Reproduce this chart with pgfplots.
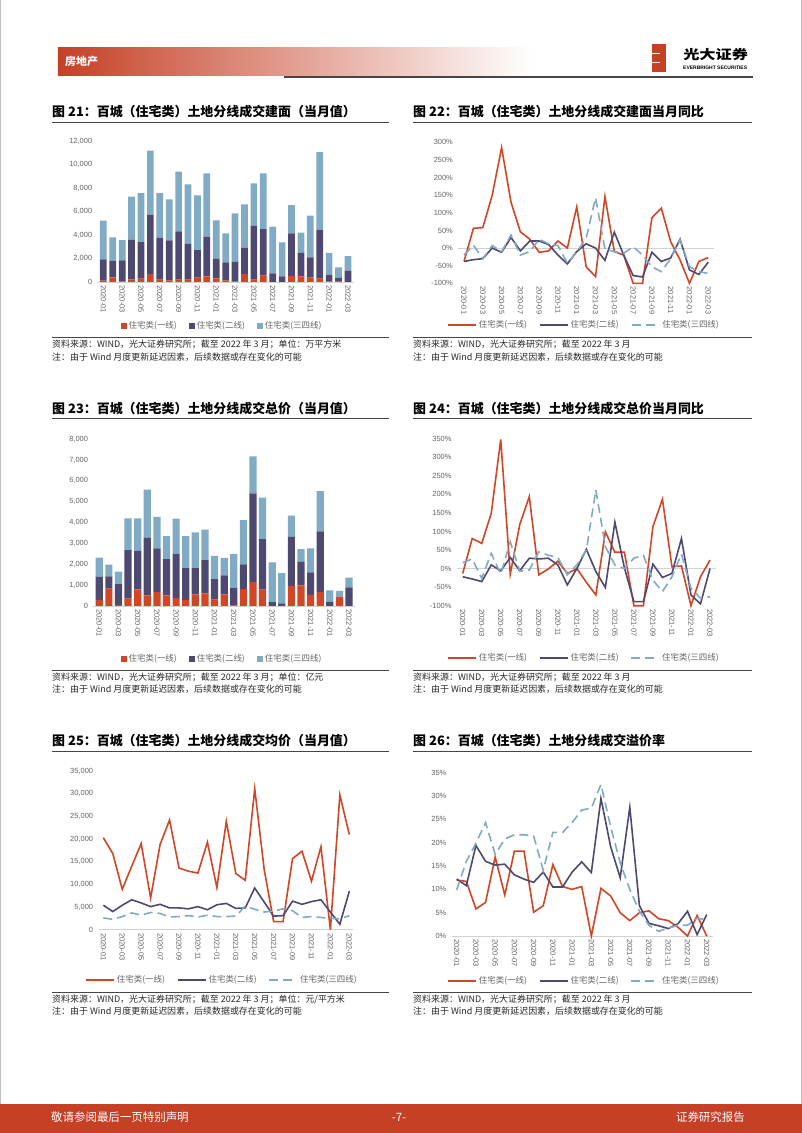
\documentclass[border=0pt]{standalone}
\usepackage{pgfplots}
\pgfplotsset{compat=1.18}
\usepackage{pgfplotstable}
\usepackage{fontspec}
\setmainfont{Noto Sans CJK SC}
\newfontfamily\lib{Liberation Sans}
\definecolor{cRed}{RGB}{209,70,38}
\definecolor{cDark}{RGB}{78,73,112}
\definecolor{cLight}{RGB}{129,170,197}
\definecolor{cText}{RGB}{100,100,100}
\definecolor{cAxis}{RGB}{210,210,210}
\definecolor{hdrRed}{RGB}{198,64,38}
\definecolor{ruleC}{RGB}{70,70,70}
\definecolor{srcC}{RGB}{40,40,40}

\newcommand\tickfont{\lib\fontsize{7.5}{9}\selectfont}
\newcommand\legfont{\fontsize{8.5}{10}\selectfont}

\pgfplotsset{
  pagebase/.style={
    scale only axis, clip=false,
    axis line style={draw=none}, tick style={draw=none},
    xtick={0,2,...,26},
    xticklabels={2020-01,2020-03,2020-05,2020-07,2020-09,2020-11,2021-01,2021-03,2021-05,2021-07,2021-09,2021-11,2022-01,2022-03},
    x tick label style={rotate=-90, anchor=west, font=\tickfont, text=cText},
    y tick label style={font=\tickfont, text=cText, xshift=-2bp},
    /pgf/number format/assume math mode=true,
    /pgf/number format/1000 sep={,},
    scaled y ticks=false,
    legend columns=3,
    legend cell align=left,
    legend style={draw=none, fill=none, font=\legfont, text=cText, anchor=center,
      /tikz/every even column/.append style={column sep=10bp}},
  },
  linechart/.style={pagebase,
    legend image code/.code={\draw[##1] (0bp,0bp) -- (28bp,0bp);}},
  barchart/.style={pagebase, ybar stacked,
    legend image code/.code={\fill[##1] (0bp,-3bp) rectangle (6bp,3bp);}},
  sR/.style={cRed, line width=1.6bp},
  sD/.style={cDark, line width=1.6bp},
  sL/.style={cLight, line width=1.6bp, dash pattern=on 9bp off 5bp},
}

% chart 21: building area (10k m2): tier1, tier2, tier3-4
\pgfplotstableread{
x a b c
0 110 1820 3290
1 400 1390 2010
2 30 1810 1730
3 230 3370 3660
4 280 3120 4170
5 680 5050 5450
6 200 3570 3800
7 140 3410 3490
8 200 4110 5080
9 200 3060 5050
10 370 2350 4660
11 480 3380 5390
12 310 1680 3260
13 140 1530 2470
14 30 1700 4110
15 680 2240 3690
16 200 4570 3630
17 540 3970 4740
18 0 740 3970
19 0 480 2900
20 510 3630 2410
21 480 1990 1730
22 370 1730 3550
23 280 4170 6610
24 30 590 1850
25 30 340 880
26 0 960 1250
}\tblA

\pgfplotstableread{
x a b c
0 -38 -38 -20
1 56 -33 8
2 58 -30 -30
3 150 0 7
4 285 -12 -10
5 130 30 37
6 46 -8 -20
7 25 20 -10
8 -12 20 25
9 -8 10 12
10 20 -20 7
11 0 -45 -43
12 117 -10 -10
13 -53 12 27
14 -81 0 143
15 146 -35 -3
16 -10 45 -10
17 -20 -20 -15
18 -100 -78 4
19 -100 -82 -20
20 86 -12 -53
21 113 -38 -67
22 18 -28 -30
23 -34 25 23
24 -100 -62 -53
25 -38 -75 -67
26 -27 -40 -72
}\tblB

\pgfplotstableread{
x a b c
0 290 1100 930
1 830 590 560
2 60 990 600
3 350 2330 1520
4 800 1850 1550
5 510 2760 2300
6 670 2090 1510
7 510 1740 1100
8 380 2130 1680
9 290 1530 1530
10 560 1260 1710
11 610 1590 1460
12 300 990 1110
13 560 910 830
14 20 860 1610
15 810 1190 2120
16 1150 4250 1770
17 780 2430 1980
18 0 190 1900
19 0 130 1440
20 960 2350 1020
21 990 1130 600
22 530 1080 1150
23 670 2910 1920
24 0 210 540
25 450 0 270
26 0 890 470
}\tblC

\pgfplotstableread{
x a b c
0 -13 -22 16
1 81 -28 26
2 68 -35 -26
3 149 10 41
4 348 -6 -15
5 -15 30 72
6 119 -6 -7
7 194 28 -4
8 -17 26 45
9 -1 28 36
10 20 10 30
11 -13 -44 -17
12 0 0 10
13 -37 52 50
14 -71 -8 212
15 99 -51 59
16 44 125 10
17 44 2 0
18 -100 -89 28
19 -100 -89 36
20 113 12 -31
21 187 -24 -62
22 5 -13 -22
23 7 81 39
24 -100 -71 -53
25 -22 -95 -80
26 23 0 -76
}\tblD

\pgfplotstableread{
x a b c
0 20300 5400 2600
1 16800 4000 2300
2 8900 5400 2900
3 14000 6600 3700
4 19000 5900 3200
5 7000 5100 3800
6 18800 5600 3600
7 24200 4800 2800
8 13600 4800 2900
9 12900 4600 3100
10 12500 5100 2800
11 19300 4400 3200
12 9300 5500 2900
13 23900 5800 2900
14 12400 4700 3000
15 10900 4800 5200
16 31100 9200 4500
17 13300 6100 3900
18 1800 3000 4100
19 1800 3100 4600
20 15700 6300 4200
21 17300 5600 2700
22 10700 6200 2900
23 18300 6600 2700
24 0 3900 2500
25 29700 1200 2400
26 21000 8500 3100
}\tblE

\pgfplotstableread{
x a b c
0 12.0 12.2 9.9
1 11.7 10.8 16.0
2 5.8 19.4 19.9
3 7.2 16.0 24.3
4 16.9 15.2 17.5
5 8.8 15.4 20.8
6 18.2 13.1 21.7
7 18.2 12.2 21.7
8 5.1 11.5 21.4
9 6.5 13.7 14.1
10 15.3 10.5 22.2
11 10.6 10.5 22.2
12 10.0 13.7 24.3
13 10.6 15.9 27.0
14 0 13.6 27.4
15 10.2 29.5 32.5
16 8.6 19.2 23.5
17 5.0 12.5 15.7
18 3.3 27.6 10.0
19 5.0 6.5 5.3
20 5.4 2.7 2.3
21 3.7 2.2 1.0
22 3.3 1.6 1.7
23 1.9 2.6 2.3
24 0 5.3 2.3
25 4.4 0.3 3.8
26 0 4.6 3.5
}\tblF

\newcommand\titlefont{\bfseries\fontsize{13}{15}\selectfont}
\newcommand\srcfont{\fontsize{9}{11}\selectfont}

\begin{document}
\begin{tikzpicture}
\useasboundingbox (0,0) rectangle (802bp,-1133bp);
\fill[white] (0,0) rectangle (802bp,-1133bp);
\draw[gray!50, line width=0.8bp] (0.4bp,0) -- (0.4bp,-1133bp);
\draw[gray!50, line width=0.8bp] (801.6bp,0) -- (801.6bp,-1133bp);

% header
\shade[left color=hdrRed, middle color=hdrRed!50, right color=white] (57.8bp,-47.5bp) rectangle (532bp,-75.7bp);
\node[anchor=west, inner sep=0, text=white, font=\bfseries\fontsize{11}{13}\selectfont] at (65bp,-61.5bp) {房地产};
\draw[ruleC, line width=1.5bp] (284.4bp,-76.8bp) -- (753bp,-76.8bp);
% logo
\fill[hdrRed] (652bp,-43.5bp) rectangle (665.5bp,-71.7bp);
\fill[white] (652bp,-52.5bp) rectangle (660bp,-53.8bp);
\fill[white] (652bp,-62bp) rectangle (660bp,-63.3bp);
\node[anchor=west, inner sep=0, xscale=1.25, font=\bfseries\fontsize{13}{15}\selectfont] at (683bp,-55bp) {光大证券};
\node[anchor=west, inner sep=0, font=\lib\bfseries\fontsize{5}{6}\selectfont] at (683bp,-67.3bp) {EVERBRIGHT SECURITIES};

% footer
\fill[hdrRed] (0,-1103.5bp) rectangle (802bp,-1133bp);
\node[anchor=west, inner sep=0, text=white, font=\fontsize{11.5}{13}\selectfont] at (51bp,-1117bp) {敬请参阅最后一页特别声明};
\node[inner sep=0, text=white, font=\fontsize{11.5}{13}\selectfont] at (399bp,-1117bp) {-7-};
\node[anchor=east, inner sep=0, text=white, font=\fontsize{11.5}{13}\selectfont] at (745bp,-1117bp) {证券研究报告};

% titles, rules, sources
\node[anchor=west, inner sep=0, font=\titlefont] at (52bp,-112bp) {图 21：百城（住宅类）土地分线成交建面（当月值）};
\node[anchor=west, inner sep=0, font=\titlefont] at (413bp,-112bp) {图 22：百城（住宅类）土地分线成交建面当月同比};
\node[anchor=west, inner sep=0, font=\titlefont] at (52bp,-408.5bp) {图 23：百城（住宅类）土地分线成交总价（当月值）};
\node[anchor=west, inner sep=0, font=\titlefont] at (413bp,-408.5bp) {图 24：百城（住宅类）土地分线成交总价当月同比};
\node[anchor=west, inner sep=0, font=\titlefont] at (52bp,-741bp) {图 25：百城（住宅类）土地分线成交均价（当月值）};
\node[anchor=west, inner sep=0, font=\titlefont] at (413bp,-741bp) {图 26：百城（住宅类）土地分线成交溢价率};

\foreach \yy in {122.7,418.3,751.5,337,670,992}{
  \draw[ruleC, line width=0.9bp] (52bp,-\yy bp) -- (389bp,-\yy bp);
  \draw[ruleC, line width=0.9bp] (413bp,-\yy bp) -- (752bp,-\yy bp);
}

\node[anchor=west, inner sep=0, font=\srcfont, text=srcC] at (52bp,-344bp) {资料来源：WIND，光大证券研究所；截至 2022 年 3 月；单位：万平方米};
\node[anchor=west, inner sep=0, font=\srcfont, text=srcC] at (52bp,-357bp) {注：由于 Wind 月度更新延迟因素，后续数据或存在变化的可能};
\node[anchor=west, inner sep=0, font=\srcfont, text=srcC] at (413bp,-344bp) {资料来源：WIND，光大证券研究所；截至 2022 年 3 月};
\node[anchor=west, inner sep=0, font=\srcfont, text=srcC] at (413bp,-357bp) {注：由于 Wind 月度更新延迟因素，后续数据或存在变化的可能};

\node[anchor=west, inner sep=0, font=\srcfont, text=srcC] at (52bp,-677bp) {资料来源：WIND，光大证券研究所；截至 2022 年 3 月；单位：亿元};
\node[anchor=west, inner sep=0, font=\srcfont, text=srcC] at (52bp,-689bp) {注：由于 Wind 月度更新延迟因素，后续数据或存在变化的可能};
\node[anchor=west, inner sep=0, font=\srcfont, text=srcC] at (413bp,-677bp) {资料来源：WIND，光大证券研究所；截至 2022 年 3 月};
\node[anchor=west, inner sep=0, font=\srcfont, text=srcC] at (413bp,-689bp) {注：由于 Wind 月度更新延迟因素，后续数据或存在变化的可能};

\node[anchor=west, inner sep=0, font=\srcfont, text=srcC] at (52bp,-999bp) {资料来源：WIND，光大证券研究所；截至 2022 年 3 月；单位：元/平方米};
\node[anchor=west, inner sep=0, font=\srcfont, text=srcC] at (52bp,-1011bp) {注：由于 Wind 月度更新延迟因素，后续数据或存在变化的可能};
\node[anchor=west, inner sep=0, font=\srcfont, text=srcC] at (413bp,-999bp) {资料来源：WIND，光大证券研究所；截至 2022 年 3 月};
\node[anchor=west, inner sep=0, font=\srcfont, text=srcC] at (413bp,-1011bp) {注：由于 Wind 月度更新延迟因素，后续数据或存在变化的可能};

% ===== Chart 21 =====
\begin{axis}[barchart, at={(97.7bp,-282bp)}, anchor=south west,
  width=255.9bp, height=141bp, xmin=-0.6, xmax=26.6, ymin=0, ymax=12000,
  ytick={0,2000,...,12000}, bar width=6.7bp,
  legend style={at={(0.486,-0.312)}}]
\draw[cAxis, line width=0.8bp] (rel axis cs:0,0) -- (rel axis cs:1,0);
\addplot[fill=cRed, draw=none] table[x=x,y=a]{\tblA};
\addplot[fill=cDark, draw=none] table[x=x,y=b]{\tblA};
\addplot[fill=cLight, draw=none] table[x=x,y=c]{\tblA};
\legend{住宅类(一线),住宅类(二线),住宅类(三四线)}
\end{axis}

% ===== Chart 22 =====
\begin{axis}[linechart, at={(458.4bp,-283.3bp)}, anchor=south west,
  width=255.5bp, height=141bp, xmin=-0.6, xmax=26.6, ymin=-100, ymax=300,
  ytick={-100,-50,...,300}, yticklabel={\pgfmathprintnumber{\tick}\%},
  legend style={at={(0.492,-0.296)}}]
\draw[cAxis, line width=0.8bp] (axis cs:-0.6,0) -- (axis cs:26.6,0);
\addplot[sR] table[x=x,y=a]{\tblB};
\addplot[sD] table[x=x,y=b]{\tblB};
\addplot[sL] table[x=x,y=c]{\tblB};
\legend{住宅类(一线),住宅类(二线),住宅类(三四线)}
\end{axis}

% ===== Chart 23 =====
\begin{axis}[barchart, at={(93.5bp,-606bp)}, anchor=south west,
  width=261.3bp, height=167bp, xmin=-0.6, xmax=26.6, ymin=0, ymax=8000,
  ytick={0,1000,...,8000}, bar width=7.2bp,
  legend style={at={(0.492,-0.317)}}]
\draw[cAxis, line width=0.8bp] (rel axis cs:0,0) -- (rel axis cs:1,0);
\addplot[fill=cRed, draw=none] table[x=x,y=a]{\tblC};
\addplot[fill=cDark, draw=none] table[x=x,y=b]{\tblC};
\addplot[fill=cLight, draw=none] table[x=x,y=c]{\tblC};
\legend{住宅类(一线),住宅类(二线),住宅类(三四线)}
\end{axis}

% ===== Chart 24 =====
\begin{axis}[linechart, at={(457bp,-605.7bp)}, anchor=south west,
  width=258.7bp, height=167bp, xmin=-0.6, xmax=26.6, ymin=-100, ymax=350,
  ytick={-100,-50,...,350}, yticklabel={\pgfmathprintnumber{\tick}\%},
  legend style={at={(0.491,-0.312)}}]
\draw[cAxis, line width=0.8bp] (axis cs:-0.6,0) -- (axis cs:26.6,0);
\addplot[sR] table[x=x,y=a]{\tblD};
\addplot[sD] table[x=x,y=b]{\tblD};
\addplot[sL] table[x=x,y=c]{\tblD};
\legend{住宅类(一线),住宅类(二线),住宅类(三四线)}
\end{axis}

% ===== Chart 25 =====
\begin{axis}[linechart, at={(98.6bp,-929.7bp)}, anchor=south west,
  width=254.5bp, height=158.7bp, xmin=-0.5, xmax=26.4, ymin=0, ymax=35000,
  ytick={0,5000,...,35000},
  legend style={at={(0.485,-0.317)}}]
\draw[cAxis, line width=0.8bp] (rel axis cs:0,0) -- (rel axis cs:1,0);
\addplot[sR] table[x=x,y=a]{\tblE};
\addplot[sD] table[x=x,y=b]{\tblE};
\addplot[sL] table[x=x,y=c]{\tblE};
\legend{住宅类(一线),住宅类(二线),住宅类(三四线)}
\end{axis}

% ===== Chart 26 =====
\begin{axis}[linechart, at={(451.9bp,-936bp)}, anchor=south west,
  width=260.6bp, height=163.3bp, xmin=-0.5, xmax=26.6, ymin=0, ymax=35,
  ytick={0,5,...,35}, yticklabel={\pgfmathprintnumber{\tick}\%},
  legend style={at={(0.507,-0.274)}}]
\draw[cAxis, line width=0.8bp] (rel axis cs:0,0) -- (rel axis cs:1,0);
\addplot[sR] table[x=x,y=a]{\tblF};
\addplot[sD] table[x=x,y=b]{\tblF};
\addplot[sL] table[x=x,y=c]{\tblF};
\legend{住宅类(一线),住宅类(二线),住宅类(三四线)}
\end{axis}
\end{tikzpicture}
\end{document}
